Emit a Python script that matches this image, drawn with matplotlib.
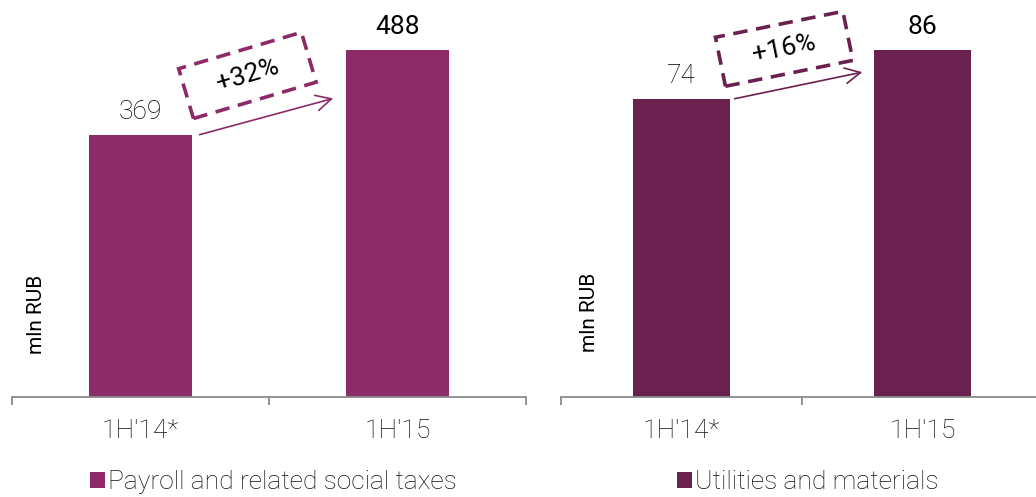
import matplotlib
matplotlib.use("Agg")
import matplotlib.pyplot as plt
from matplotlib.patches import Rectangle
import matplotlib.transforms as mtransforms

# ---- data -------------------------------------------------------------
periods = ["1H'14*", "1H'15"]
payroll = [369, 488]
utilities = [74, 86]
payroll_growth = "+32%"
utilities_growth = "+16%"
series_names = ["Payroll and related social taxes", "Utilities and materials"]

# ---- style ------------------------------------------------------------
plt.rcParams["font.family"] = ["Roboto", "Liberation Sans", "DejaVu Sans"]
payroll_color = "#8C2B68"
utilities_color = "#6B2150"
axis_color = "#8a8a8a"
text_color = "#111111"
FS = 19

W, H = 1036, 497
fig = plt.figure(figsize=(W / 100, H / 100), dpi=100)


def px_axes(left, bottom_from_top, right, top_from_top):
    return fig.add_axes([left / W, 1 - bottom_from_top / H,
                         (right - left) / W, (bottom_from_top - top_from_top) / H])


def draw_panel(ax, values, color, ytop, growth, gpos, gsize, gangle,
               arrow_start, arrow_end, name, legend_xy, ylabel_xy):
    x = range(len(values))
    bars = ax.bar(x, values, width=0.40, color=color, label=name, zorder=2)
    ax.set_xlim(-0.5, len(values) - 0.5)
    ax.set_ylim(0, ytop)
    ax.set_yticks([])
    for s in ("left", "right", "top"):
        ax.spines[s].set_visible(False)
    ax.spines["bottom"].set_color(axis_color)
    ax.spines["bottom"].set_linewidth(1.3)
    ax.set_xticks(list(x))
    ax.set_xticklabels(periods, fontsize=FS, fontweight="light", color=text_color)
    ax.set_xticks([i - 0.5 for i in range(len(values) + 1)], minor=True)
    ax.tick_params(axis="x", which="major", length=0, pad=16)
    ax.tick_params(axis="x", which="minor", length=5.5, width=1.3,
                   color=axis_color, direction="out")

    # value labels
    weights = ["light", "normal"]
    for b, v, w in zip(bars, values, weights):
        ax.annotate(f"{v}", xy=(b.get_x() + b.get_width() / 2, v),
                    xytext=(0, 8), textcoords="offset points",
                    ha="center", va="bottom", fontsize=FS, fontweight=w,
                    color="black")

    # growth arrow between the bars
    ax.annotate("", xy=arrow_end, xytext=arrow_start,
                arrowprops=dict(arrowstyle="->,head_length=0.55,head_width=0.28",
                                color=color, lw=1.2, shrinkA=0, shrinkB=0,
                                mutation_scale=20))

    # dashed, tilted growth box
    gw, gh = gsize
    tr = (mtransforms.Affine2D().rotate_deg(gangle)
          + mtransforms.ScaledTranslation(gpos[0], gpos[1], ax.transAxes))
    box = Rectangle((-gw / 2, -gh / 2), gw, gh, fill=False, edgecolor=color,
                    linewidth=2.6, linestyle=(0, (4.0, 2.4)), transform=tr,
                    zorder=3)
    fig.add_artist(box)
    ax.text(gpos[0], gpos[1], growth, transform=ax.transAxes, rotation=gangle,
            rotation_mode="anchor", ha="center", va="center", fontsize=FS,
            fontweight="normal", color="black")

    ax.set_ylabel("mln RUB", fontsize=15, color="black")
    ax.yaxis.set_label_coords(*ylabel_xy)
    ax.yaxis.label.set_va("center")

    leg = fig.legend(handles=[bars], labels=[name], loc="upper left",
                     bbox_to_anchor=(legend_xy[0] / W, 1 - legend_xy[1] / H),
                     bbox_transform=fig.transFigure, frameon=False,
                     borderpad=0, borderaxespad=0, handlelength=0.57,
                     handleheight=0.57, handletextpad=0.12,
                     prop={"size": FS, "weight": "light"})
    for t in leg.get_texts():
        t.set_color(text_color)


ax1 = px_axes(12, 397, 526, 0)
draw_panel(ax1, payroll, payroll_color, 558.4, payroll_growth,
           gpos=(0.458, 0.81), gsize=(128, 52), gangle=16.5,
           arrow_start=(0.23, payroll[0]), arrow_end=(0.75, 420),
           name=series_names[0], legend_xy=(90, 470), ylabel_xy=(0.047, 0.207))

ax2 = px_axes(561, 397, 1043, 0)
draw_panel(ax2, utilities, utilities_color, 98.5, utilities_growth,
           gpos=(0.463, 0.877), gsize=(130, 50), gangle=11.5,
           arrow_start=(0.22, utilities[0]), arrow_end=(0.75, 80.6),
           name=series_names[1], legend_xy=(677, 470), ylabel_xy=(0.059, 0.214))

fig.savefig("out.png", dpi=100)
